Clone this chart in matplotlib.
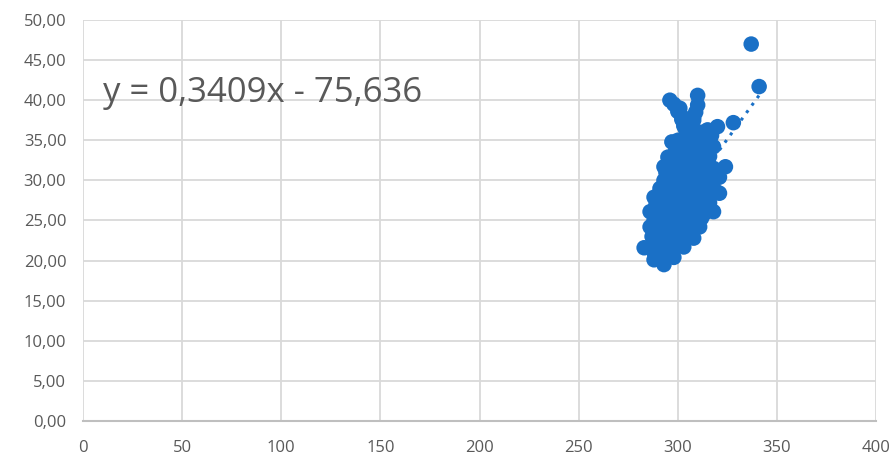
import numpy as np
import matplotlib
matplotlib.use('Agg')
from matplotlib import pyplot as plt
from matplotlib.ticker import FuncFormatter

# scatter values (x, y)
x_vals = [296, 301, 310, 310, 304, 308, 315, 320, 328, 318, 297, 295, 293, 324, 321,
          295, 288, 321, 318, 286, 286, 311, 308, 283, 288, 293, 298, 303, 337, 341,
          288, 292, 296, 300,
          287, 291, 295, 299, 303, 306,
          288, 292, 296, 300, 304, 308, 312,
          289, 293, 297, 301, 305, 309, 313, 316,
          291, 295, 299, 303, 307, 311, 315, 318,
          294, 298, 302, 306, 310, 314, 318,
          297, 301, 305, 309, 313, 316,
          300, 304, 308, 311, 302, 306,
          290, 294, 298, 302,
          289, 293, 297, 301, 305, 309,
          290, 294, 298, 302, 306, 310, 314,
          292, 296, 300, 304, 308, 312, 316, 320,
          293, 297, 301, 305, 309, 313, 317,
          296, 300, 304, 308, 312, 315,
          299, 303, 307, 311, 314,
          298, 300, 302, 303, 309, 308, 307, 312, 317, 310]
y_vals = [40.0, 39.0, 40.6, 39.4, 36.3, 37.9, 36.3, 36.7, 37.2, 34.2, 34.8, 32.9, 31.7, 31.7, 30.4,
          29.7, 27.9, 28.4, 26.1, 26.1, 24.2, 24.2, 22.8, 21.6, 20.1, 19.5, 20.4, 21.7, 47.0, 41.7,
          21.0, 21.0, 21.5, 22.0,
          23.0, 23.0, 23.0, 23.5, 23.5, 23.2,
          25.0, 25.0, 25.0, 25.0, 25.5, 25.0, 25.3,
          27.0, 27.0, 27.0, 27.0, 27.0, 27.5, 27.0, 27.2,
          29.0, 29.0, 29.0, 29.0, 29.0, 29.0, 29.5, 29.0,
          31.0, 31.0, 31.0, 31.0, 31.0, 31.0, 31.5,
          33.0, 33.0, 33.0, 33.0, 33.0, 33.0,
          35.0, 35.5, 35.0, 35.5, 38.0, 37.0,
          22.0, 22.0, 22.5, 22.8,
          24.0, 24.0, 24.0, 24.2, 24.5, 24.3,
          26.0, 26.0, 26.0, 26.0, 26.2, 26.3, 26.0,
          28.0, 28.0, 28.0, 28.0, 28.0, 28.2, 28.0, 28.5,
          30.0, 30.0, 30.0, 30.0, 30.0, 30.2, 30.0,
          32.0, 32.0, 32.0, 32.0, 32.0, 32.2,
          34.0, 34.0, 34.0, 34.0, 35.0,
          39.5, 38.6, 37.6, 36.8, 38.5, 37.5, 36.5, 36.0, 35.6, 35.0]

slope = 0.3409
intercept = -75.636
x_ticks = [0, 50, 100, 150, 200, 250, 300, 350, 400]
y_ticks = [0, 5, 10, 15, 20, 25, 30, 35, 40, 45, 50]

blue = '#1a70c6'
grey_txt = '#595959'

plt.rcParams['font.family'] = ['Open Sans', 'DejaVu Sans']

fig = plt.figure(figsize=(8.94, 4.61), dpi=100)
ax = fig.add_axes([0.0928, 0.0868, 0.8872, 0.8698])

ax.scatter(x_vals, y_vals, s=125, color=blue, edgecolors='none', zorder=3)

# linear trend line
tx = np.array([min(x_vals), max(x_vals)])
ax.plot(tx, slope * tx + intercept, color=blue, linestyle=(0, (1, 2)), linewidth=2.2, zorder=4)

ax.text(10, 39.8, 'y = 0,3409x - 75,636', fontsize=25, color=grey_txt, zorder=5)

ax.set_xlim(0, 400)
ax.set_ylim(0, 50)
ax.set_xticks(x_ticks)
ax.set_yticks(y_ticks)
ax.yaxis.set_major_formatter(FuncFormatter(lambda v, p: f'{v:.2f}'.replace('.', ',')))
ax.tick_params(length=0, labelsize=12, labelcolor=grey_txt)
ax.tick_params(axis='x', pad=14)
ax.tick_params(axis='y', pad=12)

ax.grid(color='#d9d9d9', linewidth=1.3, zorder=0)
ax.set_axisbelow(True)
for side in ['top', 'right', 'left']:
    ax.spines[side].set_visible(False)
ax.spines['bottom'].set_color('#bfbfbf')
ax.spines['bottom'].set_linewidth(1.5)

fig.savefig('out.png', dpi=100)
